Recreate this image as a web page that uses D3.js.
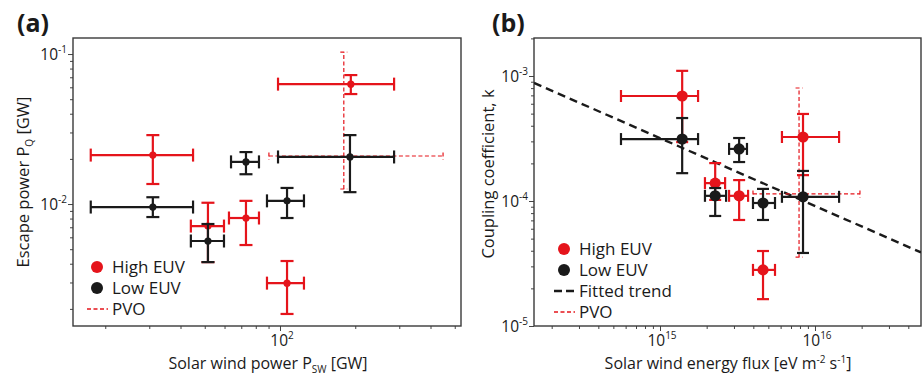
<!DOCTYPE html>
<html>
<head>
<meta charset="utf-8">
<script src="https://cdn.jsdelivr.net/npm/d3@7"></script>
<style>
  body { margin: 0; background: #fff; }
  text { font-family: "Open Sans", sans-serif; fill: #1a1a1a; }
</style>
</head>
<body>
<svg id="chart" width="922" height="377"></svg>
<script>
// rows: [x, xLo, xHi, y, yLo, yHi]
const aHighEUV = [
  [31.0, 17.5, 44.9, 0.0212, 0.0136, 0.0288],
  [192, 98.2, 286, 0.063, 0.0541, 0.0724],
  [51.5, 44.0, 59.7, 0.00713, 0.0041, 0.0102],
  [73.1, 62.5, 82.4, 0.00807, 0.00533, 0.0105],
  [106.7, 88.7, 124.7, 0.00297, 0.00185, 0.00417]
];
const aLowEUV = [
  [73.1, 63.7, 82.4, 0.0191, 0.0158, 0.0222],
  [190.5, 98.2, 286, 0.0206, 0.012, 0.0288],
  [31.0, 17.5, 44.9, 0.00955, 0.00819, 0.0111],
  [51.5, 44.0, 59.7, 0.00567, 0.0041, 0.00736],
  [106.7, 88.7, 124.7, 0.0105, 0.00807, 0.0128]
];
const aPVO = [[180, 90.3, 449, 0.0209, 0.0126, 0.103]];

const bHighEUV = [
  [1.39e15, 5.6e14, 1.76e15, 6.92e-4, 2.96e-4, 1.1e-3],
  [8.37e15, 6.12e15, 1.43e16, 3.25e-4, 1.61e-4, 4.97e-4],
  [2.27e15, 1.95e15, 2.63e15, 1.39e-4, 1.02e-4, 2.01e-4],
  [3.24e15, 2.79e15, 3.7e15, 1.1e-4, 7.05e-5, 1.47e-4],
  [4.62e15, 3.98e15, 5.52e15, 2.81e-5, 1.64e-5, 3.98e-5]
];
const bLowEUV = [
  [1.39e15, 5.6e14, 1.76e15, 3.13e-4, 1.67e-4, 4.61e-4],
  [3.24e15, 2.79e15, 3.64e15, 2.61e-4, 2.05e-4, 3.19e-4],
  [2.27e15, 1.95e15, 2.67e15, 1.1e-4, 7.59e-5, 1.27e-4],
  [4.62e15, 3.98e15, 5.52e15, 9.64e-5, 7.05e-5, 1.25e-4],
  [8.37e15, 6.12e15, 1.43e16, 1.08e-4, 3.84e-5, 1.74e-4]
];
const bPVO = [[7.89e15, 3.98e15, 1.95e16, 1.14e-4, 3.56e-5, 8.02e-4]];

// fitted trend: log10 k = fitIntercept + fitSlope * log10 F
const fitSlope = -0.543;
const fitIntercept = 4.648;

const aXMajor = [100];
const aYMajor = [0.01, 0.1];
const bXMajor = [1e15, 1e16];
const bYMajor = [1e-5, 1e-4, 1e-3];

const RED = '#e5141b';
const BLACK = '#1a1a1a';

const svg = d3.select('#chart');

function minorTicks(scale, majors) {
  const [d0, d1] = scale.domain();
  const out = [];
  for (let e = Math.floor(Math.log10(d0)); e <= Math.ceil(Math.log10(d1)); e++) {
    for (let m = 1; m < 10; m++) {
      const v = m * Math.pow(10, e);
      if (v >= d0 && v <= d1 && !majors.some(t => Math.abs(t / v - 1) < 1e-6)) out.push(v);
    }
  }
  return out;
}

function powLabel(sel, v) {
  const e = Math.round(Math.log10(v));
  sel.text('10');
  sel.append('tspan').attr('dy', -7).attr('font-size', 10).text(e);
}

function panel(opts) {
  const { xr, yr, xd, yd, xMajor, yMajor } = opts;
  const x = d3.scaleLog().domain(xd).range(xr);
  const y = d3.scaleLog().domain(yd).range(yr);
  const g = svg.append('g');

  // minor ticks
  g.append('g').attr('transform', `translate(0,${yr[0]})`)
    .call(d3.axisBottom(x).tickValues(minorTicks(x, xMajor)).tickSize(3).tickFormat(''));
  g.append('g').attr('transform', `translate(${xr[0]},0)`)
    .call(d3.axisLeft(y).tickValues(minorTicks(y, yMajor)).tickSize(3).tickFormat(''));
  // major ticks
  g.append('g').attr('transform', `translate(0,${yr[0]})`)
    .call(d3.axisBottom(x).tickValues(xMajor).tickSize(5).tickFormat(''));
  g.append('g').attr('transform', `translate(${xr[0]},0)`)
    .call(d3.axisLeft(y).tickValues(yMajor).tickSize(5).tickFormat(''));
  g.selectAll('.domain').remove();
  g.selectAll('.tick line').attr('stroke', '#444').attr('stroke-width', 1);

  g.selectAll('.xlab').data(xMajor).join('text')
    .attr('x', d => x(d) + 2).attr('y', yr[0] + 20)
    .attr('text-anchor', 'middle').attr('font-size', 15.5)
    .each(function (d) { powLabel(d3.select(this), d); });
  g.selectAll('.ylab').data(yMajor).join('text')
    .attr('x', xr[0] - 6).attr('y', d => y(d) + 6)
    .attr('text-anchor', 'end').attr('font-size', 15.5)
    .each(function (d) { powLabel(d3.select(this), d); });

  // frame
  g.append('rect')
    .attr('x', xr[0]).attr('y', yr[1])
    .attr('width', xr[1] - xr[0]).attr('height', yr[0] - yr[1])
    .attr('fill', 'none').attr('stroke', '#3a3a3a').attr('stroke-width', 1.4);

  const clip = 'clip' + Math.round(xr[0]);
  g.append('clipPath').attr('id', clip).append('rect')
    .attr('x', xr[0]).attr('y', yr[1])
    .attr('width', xr[1] - xr[0]).attr('height', yr[0] - yr[1]);
  const plot = g.append('g').attr('clip-path', `url(#${clip})`);

  return { x, y, g, plot };
}

function errorBars(p, rows, st) {
  const { x, y } = p;
  const g = p.plot.append('g')
    .attr('stroke', st.color).attr('stroke-width', st.width)
    .attr('stroke-dasharray', st.dash || null).attr('fill', 'none');
  const h = st.cap / 2;
  rows.forEach(r => {
    const [cx, xl, xh, cy, yl, yh] = r;
    const px = x(cx), py = y(cy);
    const segs = [
      [x(xl), py, x(xh), py],
      [x(xl), py - h, x(xl), py + h],
      [x(xh), py - h, x(xh), py + h],
      [px, y(yl), px, y(yh)],
      [px - h, y(yl), px + h, y(yl)],
      [px - h, y(yh), px + h, y(yh)]
    ];
    g.selectAll(null).data(segs).join('line')
      .attr('x1', d => d[0]).attr('y1', d => d[1])
      .attr('x2', d => d[2]).attr('y2', d => d[3]);
  });
  if (st.r) {
    p.plot.append('g').selectAll('circle').data(rows).join('circle')
      .attr('cx', d => x(d[0])).attr('cy', d => y(d[3]))
      .attr('r', st.r).attr('fill', st.color);
  }
}

function legend(g, x0, y0, items) {
  items.forEach((it, i) => {
    const yy = y0 + i * 21;
    if (it.type === 'dot') {
      g.append('circle').attr('cx', x0 + 10).attr('cy', yy).attr('r', 6).attr('fill', it.color);
    } else {
      g.append('line').attr('x1', x0).attr('x2', x0 + 21).attr('y1', yy).attr('y2', yy)
        .attr('stroke', it.color).attr('stroke-width', it.width)
        .attr('stroke-dasharray', it.dash);
    }
    g.append('text').attr('x', x0 + 25).attr('y', yy + 6)
      .attr('font-size', 17).text(it.label);
  });
}

// ---- panel (a)
const pa = panel({
  xr: [73, 461], yr: [326, 38],
  xd: [14.86, 529.7], yd: [0.001538, 0.1279],
  xMajor: aXMajor, yMajor: aYMajor
});
errorBars(pa, aPVO, { color: RED, width: 1.2, cap: 7, dash: '4,2.5' });
errorBars(pa, aHighEUV, { color: RED, width: 2.2, cap: 13, r: 3.6 });
errorBars(pa, aLowEUV, { color: BLACK, width: 2.2, cap: 13, r: 3.6 });

legend(pa.g, 87, 267, [
  { type: 'dot', color: RED, label: 'High EUV' },
  { type: 'dot', color: BLACK, label: 'Low EUV' },
  { type: 'line', color: RED, width: 1.3, dash: '4,2.5', label: 'PVO' }
]);

const axa = pa.g.append('text').attr('x', 268).attr('y', 369)
  .attr('text-anchor', 'middle').attr('font-size', 16).text('Solar wind power P');
axa.append('tspan').attr('dy', 3.5).attr('font-size', 10).text('SW');
axa.append('tspan').attr('dy', -3.5).text(' [GW]');

const aya = pa.g.append('text').attr('transform', 'translate(29,182) rotate(-90)')
  .attr('text-anchor', 'middle').attr('font-size', 16.5).text('Escape power P');
aya.append('tspan').attr('dy', 4).attr('font-size', 10).text('Q');
aya.append('tspan').attr('dy', -4).text(' [GW]');

svg.append('text').attr('x', 17).attr('y', 32).attr('font-size', 25)
  .attr('font-weight', 'bold').text('(a)');

// ---- panel (b)
const pb = panel({
  xr: [534, 921], yr: [326, 38],
  xd: [1.538e14, 4.83e16], yd: [1e-5, 2.014e-3],
  xMajor: bXMajor, yMajor: bYMajor
});
const fitX = pb.x.domain();
pb.plot.append('path')
  .datum(fitX.map(f => [f, Math.pow(10, fitIntercept + fitSlope * Math.log10(f))]))
  .attr('d', d3.line().x(d => pb.x(d[0])).y(d => pb.y(d[1])))
  .attr('stroke', BLACK).attr('stroke-width', 2.4).attr('stroke-dasharray', '8,5')
  .attr('fill', 'none');
errorBars(pb, bPVO, { color: RED, width: 1.2, cap: 7, dash: '4,2.5' });
errorBars(pb, bHighEUV, { color: RED, width: 2.2, cap: 12, r: 5.6 });
errorBars(pb, bLowEUV, { color: BLACK, width: 2.2, cap: 12, r: 5.6 });

legend(pb.g, 554, 249, [
  { type: 'dot', color: RED, label: 'High EUV' },
  { type: 'dot', color: BLACK, label: 'Low EUV' },
  { type: 'line', color: BLACK, width: 2.4, dash: '8,4', label: 'Fitted trend' },
  { type: 'line', color: RED, width: 1.3, dash: '4,2.5', label: 'PVO' }
]);

const axb = pb.g.append('text').attr('x', 728).attr('y', 369)
  .attr('text-anchor', 'middle').attr('font-size', 16).text('Solar wind energy flux [eV m');
axb.append('tspan').attr('dy', -6).attr('font-size', 10).text('-2');
axb.append('tspan').attr('dy', 6).text(' s');
axb.append('tspan').attr('dy', -6).attr('font-size', 10).text('-1');
axb.append('tspan').attr('dy', 6).text(']');

pb.g.append('text').attr('transform', 'translate(494,174) rotate(-90)')
  .attr('text-anchor', 'middle').attr('font-size', 16.5).text('Coupling coefficient, k');

svg.append('text').attr('x', 492).attr('y', 32).attr('font-size', 25)
  .attr('font-weight', 'bold').text('(b)');
</script>
</body>
</html>
